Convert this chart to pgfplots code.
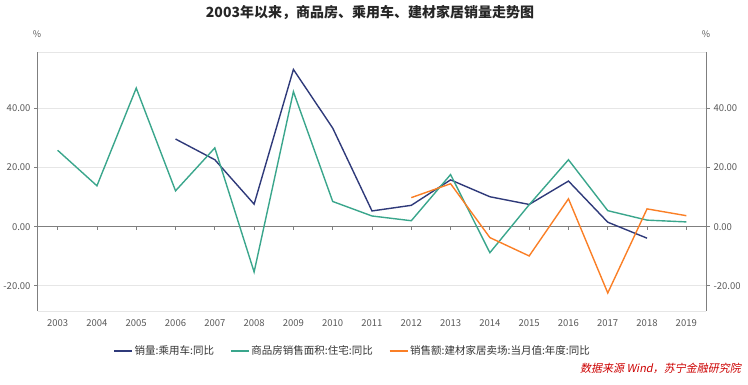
\documentclass[border=0pt]{standalone}
\usepackage{pgfplots}
\pgfplotsset{compat=1.18}
\usepackage{fontspec}
\setmainfont{Noto Sans CJK SC}
\newfontfamily\srcfont[FakeSlant=0.2]{Noto Sans CJK SC}
\definecolor{cblue}{HTML}{2F3A7A}
\definecolor{cgreen}{HTML}{3AA68C}
\definecolor{corange}{HTML}{FA7F26}
\definecolor{axgray}{HTML}{7F7F7F}
\definecolor{gridgray}{HTML}{E6E6E6}
\definecolor{txtgray}{HTML}{595959}
\begin{document}
\begin{tikzpicture}
\path[use as bounding box] (0pt,0pt) rectangle (748pt,-384pt);
\node[font=\fontsize{14}{16}\selectfont\bfseries, text=black!85] at (370pt,-13pt) {2003年以来，商品房、乘用车、建材家居销量走势图};
\node[font=\fontsize{9}{10}\selectfont, text=txtgray] at (37pt,-34pt) {\%};
\node[font=\fontsize{9}{10}\selectfont, text=txtgray] at (706pt,-34pt) {\%};
\node[font=\fontsize{11}{12}\selectfont\srcfont, text={red!80!black}, anchor=east, inner sep=0pt] at (741pt,-368pt) {数据来源 Wind，苏宁金融研究院};
\begin{axis}[
  at={(38pt,-311pt)}, anchor=south west,
  width=668pt, height=259pt, scale only axis,
  xmin=2002.5, xmax=2019.5, ymin=-28.5, ymax=59,
  axis x line*=bottom, axis y line*=left,
  x axis line style={draw=gridgray, line width=0.8pt},
  y axis line style={draw=axgray, line width=1pt},
  xtick={2003,...,2019},
  xticklabels={2003,2004,2005,2006,2007,2008,2009,2010,2011,2012,2013,2014,2015,2016,2017,2018,2019},
  x tick style={draw=none},
  ytick={-20,0,20,40},
  y tick style={draw=axgray, line width=0.8pt},
  tick align=outside, major tick length=4pt,
  ymajorgrids, major grid style={draw=gridgray, line width=0.8pt},
  yticklabel style={/pgf/number format/fixed, /pgf/number format/fixed zerofill, /pgf/number format/precision=2},
  /pgf/number format/assume math mode=true,
  tick label style={font=\fontsize{9.5}{11}\selectfont, text=txtgray},
  xticklabel style={yshift=-1pt},
  legend columns=3,
  legend style={at={(0.108,-0.154)}, anchor=west, draw=none, fill=none,
    font=\fontsize{10.5}{12}\selectfont, text=black!80,
    /tikz/every even column/.append style={column sep=14pt}},
  legend image code/.code={\draw[#1] (0pt,0pt) -- (18pt,0pt);},
  clip=false,
]
\draw[gridgray, line width=0.8pt] (rel axis cs:0,1) -- (rel axis cs:1,1);
\draw[axgray, line width=0.9pt] (axis cs:2002.5,0) -- (axis cs:2019.5,0);
\pgfplotsinvokeforeach{2003,2004,2005,2006,2007,2008,2009,2010,2011,2012,2013,2014,2015,2016,2017,2018,2019}{\draw[axgray, line width=0.8pt] (axis cs:#1,0) -- ++(0pt,-3.5pt);}
\addplot[cblue, line width=1.4pt] coordinates {
(2006,29.6) (2007,22.6) (2008,7.6) (2009,53.1) (2010,33.3) (2011,5.3) (2012,7.2) (2013,15.8) (2014,10.1) (2015,7.5) (2016,15.4) (2017,1.5) (2018,-3.9)};
\addlegendentry{销量:乘用车:同比}
\addplot[cgreen, line width=1.4pt] coordinates {
(2003,25.8) (2004,13.8) (2005,46.8) (2006,12.1) (2007,26.6) (2008,-15.3) (2009,45.6) (2010,8.5) (2011,3.6) (2012,2.0) (2013,17.6) (2014,-8.8) (2015,7.4) (2016,22.6) (2017,5.4) (2018,2.2) (2019,1.6)};
\addlegendentry{商品房销售面积:住宅:同比}
\addplot[corange, line width=1.4pt] coordinates {
(2012,9.8) (2013,14.5) (2014,-3.7) (2015,-9.9) (2016,9.4) (2017,-22.4) (2018,6.0) (2019,3.7)};
\addlegendentry{销售额:建材家居卖场:当月值:年度:同比}
\end{axis}
\begin{axis}[
  at={(38pt,-311pt)}, anchor=south west,
  width=668pt, height=259pt, scale only axis,
  xmin=2002.5, xmax=2019.5, ymin=-28.5, ymax=59,
  axis x line=none, axis y line*=right,
  y axis line style={draw=axgray, line width=1pt},
  ytick={-20,0,20,40},
  y tick style={draw=axgray, line width=0.8pt},
  tick align=outside, major tick length=4pt,
  yticklabel style={/pgf/number format/fixed, /pgf/number format/fixed zerofill, /pgf/number format/precision=2},
  /pgf/number format/assume math mode=true,
  tick label style={font=\fontsize{9.5}{11}\selectfont, text=txtgray},
]
\end{axis}
\end{tikzpicture}
\end{document}
